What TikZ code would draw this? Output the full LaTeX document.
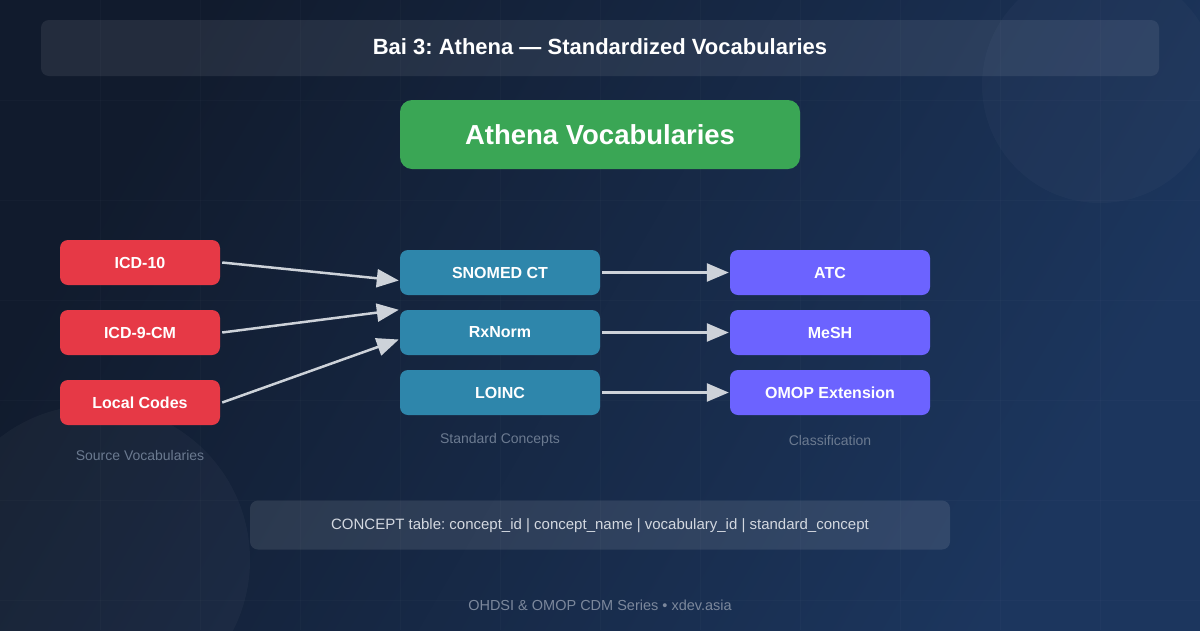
\documentclass[tikz,border=0pt]{standalone}
\usepackage{fontspec}
\setmainfont{Liberation Sans}
\frenchspacing
\usetikzlibrary{arrows.meta,calc}
\definecolor{bgA}{HTML}{111B2D}
\definecolor{bgB}{HTML}{1C365E}
\definecolor{redbox}{HTML}{E63946}
\definecolor{tealbox}{HTML}{2E86AB}
\definecolor{purplebox}{HTML}{6C63FF}
\definecolor{greenbox}{HTML}{3AA655}
\definecolor{arrowc}{HTML}{CDD2D9}
\definecolor{captionc}{HTML}{6B7A90}
\definecolor{tablec}{HTML}{D3D8E0}
\definecolor{footc}{HTML}{7C889C}
\tikzset{
  vbox/.style={rectangle, rounded corners=8pt, minimum height=45pt, inner sep=0pt,
    text=white, font=\bfseries\fontsize{16}{18}\selectfont},
  srcbox/.style={vbox, fill=redbox, minimum width=160pt},
  stdbox/.style={vbox, fill=tealbox, minimum width=200pt},
  clsbox/.style={vbox, fill=purplebox, minimum width=200pt},
  caption/.style={text=captionc, font=\fontsize{14}{16}\selectfont},
  conn/.style={draw=arrowc, line width=2.5pt, -{Triangle[length=22pt,width=18pt]}},
  panel/.style={rectangle, rounded corners=8pt, fill=white, fill opacity=0.08, text opacity=1}
}
\begin{document}
\begin{tikzpicture}[x=1pt,y=-1pt]
\useasboundingbox (0,0) rectangle (1200,630);
% background
\shade[shading=axis, left color=bgA, right color=bgB, shading angle=60] (0,0) rectangle (1200,630);
\fill[white, opacity=0.025] (1100,85) circle (118);
\fill[white, opacity=0.03] (95,560) circle (155);
\foreach \x in {100,200,...,1100} \draw[white, opacity=0.02, line width=1pt] (\x,0) -- (\x,630);
\foreach \y in {100,200,...,600} \draw[white, opacity=0.02, line width=1pt] (0,\y) -- (1200,\y);
% title
\node[panel, minimum width=1118pt, minimum height=56pt] (titlebar) at (600,48) {};
\node[text=white, font=\bfseries\fontsize{22}{26}\selectfont] (title) at (600,47) {Bai 3: Athena — Standardized Vocabularies};
% main
\node[rectangle, rounded corners=12pt, fill=greenbox, minimum width=400pt, minimum height=69pt, inner sep=0pt,
  text=white, font=\bfseries\fontsize{27.5}{31}\selectfont] (athena) at (600,134.5) {Athena Vocabularies};
% source
\node[srcbox] (icd10) at (140,262.5) {ICD-10};
\node[srcbox] (icd9) at (140,332.5) {ICD-9-CM};
\node[srcbox] (local) at (140,402.5) {Local Codes};
\node[caption] (srccap) at (140,455) {Source Vocabularies};
% standard
\node[stdbox] (snomed) at (500,272.5) {SNOMED CT};
\node[stdbox] (rxnorm) at (500,332.5) {RxNorm};
\node[stdbox] (loinc) at (500,392.5) {LOINC};
\node[caption] (stdcap) at (500,440) {Standard Concepts};
% classification
\node[clsbox] (atc) at (830,272.5) {ATC};
\node[clsbox] (mesh) at (830,332.5) {MeSH};
\node[clsbox] (omop) at (830,392.5) {OMOP Extension};
\node[caption] (clscap) at (830,440) {Classification};
% arrows
\draw[conn] ($(icd10.east)+(2,0)$) -- ($(snomed.west)+(-1,8)$);
\draw[conn] ($(icd9.east)+(2,0)$) -- ($(rxnorm.north west)+(-1,0)$);
\draw[conn] ($(local.east)+(2,0)$) -- ($(rxnorm.west)+(-1,7)$);
\draw[conn] ($(snomed.east)+(2,0)$) -- ($(atc.west)+(-1,0)$);
\draw[conn] ($(rxnorm.east)+(2,0)$) -- ($(mesh.west)+(-1,0)$);
\draw[conn] ($(loinc.east)+(2,0)$) -- ($(omop.west)+(-1,0)$);
% concept table
\node[panel, fill opacity=0.1, minimum width=700pt, minimum height=49pt] (tablebox) at (600,525) {};
\node[text=tablec, font=\fontsize{15}{17}\selectfont] (tabletext) at (600,526) {CONCEPT table: concept\_id | concept\_name | vocabulary\_id | standard\_concept};
% footer
\node[text=footc, font=\fontsize{14.5}{17}\selectfont] (footer) at (600,605) {OHDSI \& OMOP CDM Series • xdev.asia};
\end{tikzpicture}
\end{document}
